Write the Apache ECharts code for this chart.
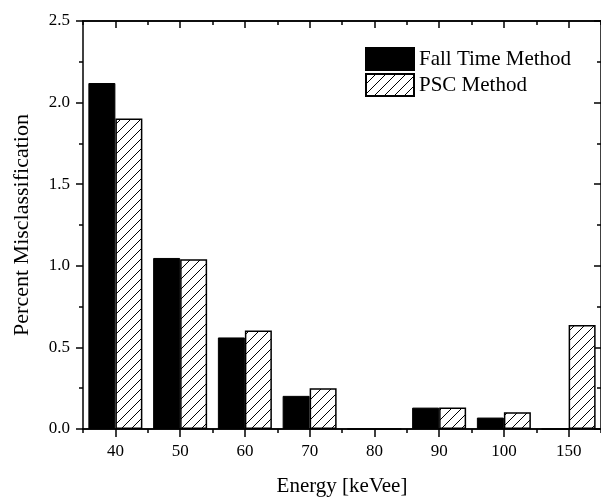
<!DOCTYPE html>
<html>
<head>
<meta charset="utf-8">
<script src="https://cdn.jsdelivr.net/npm/echarts@6/dist/echarts.min.js"></script>
<style>
  html, body { margin: 0; padding: 0; background: #fff; }
  #chart { width: 601px; height: 502px; }
</style>
</head>
<body>
<div id="chart"></div>
<script>
// energies on the x axis
const energies = ['40', '50', '60', '70', '80', '90', '100', '150'];
// percent misclassification per method
const fallTime = [2.12, 1.048, 0.561, 0.203, 0, 0.131, 0.070, 0];
const psc = [1.903, 1.040, 0.603, 0.249, 0, 0.131, 0.103, 0.637];

const font = 'Liberation Serif';

// diagonal hatch tile
function hatch() {
  const c = document.createElement('canvas');
  c.width = 10; c.height = 10;
  const ctx = c.getContext('2d');
  ctx.fillStyle = '#fff';
  ctx.fillRect(0, 0, 10, 10);
  ctx.strokeStyle = '#000';
  ctx.lineWidth = 1;
  ctx.beginPath();
  ctx.moveTo(-1, 11); ctx.lineTo(11, -1);
  ctx.moveTo(-1, 1); ctx.lineTo(1, -1);
  ctx.moveTo(9, 11); ctx.lineTo(11, 9);
  ctx.stroke();
  return c;
}
const hatchFill = { image: hatch(), repeat: 'repeat' };

const axisLine = { show: true, lineStyle: { color: '#000', width: 1.5 } };

function catAxis(pos, center, len, inside) {
  return {
    type: 'category',
    data: energies,
    position: pos,
    boundaryGap: true,
    axisLine: axisLine,
    axisTick: { show: true, alignWithLabel: center, length: len, inside: inside,
      lineStyle: { color: '#000', width: 1.5 } },
    axisLabel: { show: false },
    splitLine: { show: false }
  };
}

const chart = echarts.init(document.getElementById('chart'));
const bottomMain = catAxis('bottom', true, 8, false);
bottomMain.axisLabel = { show: true, color: '#000', fontFamily: font, fontSize: 17, margin: 14 };
bottomMain.name = 'Energy [keVee]';
bottomMain.nameLocation = 'middle';
bottomMain.nameGap = 47;
bottomMain.nameTextStyle = { color: '#000', fontFamily: font, fontSize: 21 };

const yBase = {
  type: 'value',
  min: 0, max: 2.5, interval: 0.5,
  axisLine: axisLine,
  splitLine: { show: false },
  minorTick: { show: true, splitNumber: 2, length: 4, lineStyle: { color: '#000', width: 1.5 } }
};

chart.setOption({
  animation: false,
  backgroundColor: '#fff',
  grid: { left: 83, top: 21, width: 520, bottom: 62, containLabel: false },
  legend: {
    orient: 'vertical',
    left: 360, top: 42,
    itemWidth: 48, itemHeight: 22, itemGap: 2,
    icon: 'rect',
    textStyle: { color: '#000', fontFamily: font, fontSize: 21 },
    data: ['Fall Time Method', 'PSC Method']
  },
  xAxis: [
    bottomMain,
    catAxis('bottom', false, 4, false),
    catAxis('top', true, 7, true),
    catAxis('top', false, 4, true)
  ],
  yAxis: [
    Object.assign({}, yBase, {
      position: 'left',
      name: 'Percent Misclassification',
      nameLocation: 'middle',
      nameGap: 50,
      nameTextStyle: { color: '#000', fontFamily: font, fontSize: 22 },
      axisTick: { show: true, length: 7, lineStyle: { color: '#000', width: 1.5 } },
      axisLabel: { color: '#000', fontFamily: font, fontSize: 17, margin: 13,
        formatter: v => v.toFixed(1) }
    }),
    Object.assign({}, yBase, {
      position: 'right',
      axisTick: { show: true, inside: true, length: 7, lineStyle: { color: '#000', width: 1.5 } },
      minorTick: { show: true, splitNumber: 2, length: 4, lineStyle: { color: '#000', width: 1.5 } },
      axisLabel: { show: false }
    })
  ],
  series: [
    {
      name: 'Fall Time Method',
      type: 'bar',
      data: fallTime,
      barWidth: 27,
      barGap: '0%',
      itemStyle: { color: '#000', borderColor: '#000', borderWidth: 1 }
    },
    {
      name: 'PSC Method',
      type: 'bar',
      data: psc,
      barWidth: 27,
      itemStyle: { color: hatchFill, borderColor: '#000', borderWidth: 1.5 }
    }
  ]
});
</script>
</body>
</html>
